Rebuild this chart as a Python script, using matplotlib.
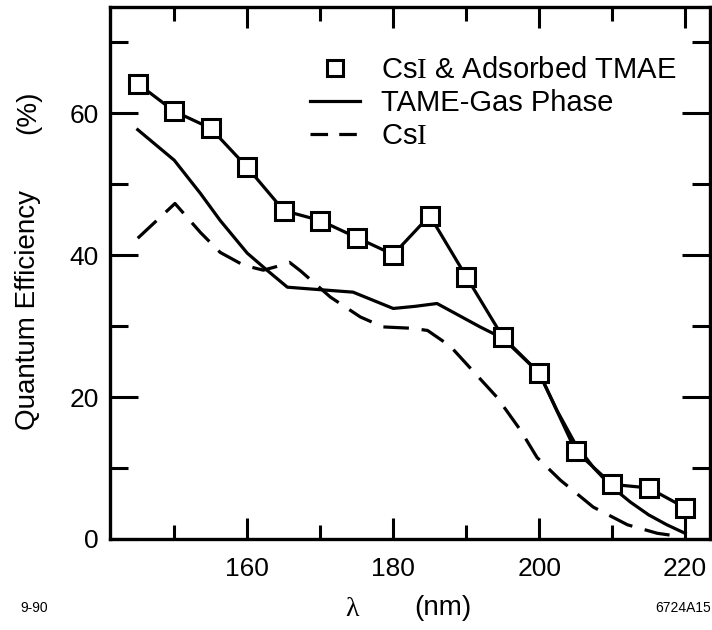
import numpy as np
import matplotlib
matplotlib.use("Agg")
import matplotlib.pyplot as plt
from matplotlib.lines import Line2D
from matplotlib.ticker import MultipleLocator

plt.rcParams['font.family'] = ['Liberation Sans', 'DejaVu Sans']
plt.rcParams['mathtext.fontset'] = 'custom'
plt.rcParams['mathtext.rm'] = 'Liberation Serif'

# CsI photocathode with adsorbed TMAE (measured points)
wl_ads = [145, 150, 155, 160, 165, 170, 175, 180, 185, 190, 195, 200, 205, 210, 215, 220]
qe_ads = [64.2, 60.3, 57.9, 52.4, 46.3, 44.9, 42.5, 40.1, 45.6, 37.0, 28.5, 23.4, 12.4, 7.7, 7.2, 4.4]

# TMAE gas phase curve
wl_gas = [145, 150, 153.6, 156.3, 160, 162.7, 165.5, 168, 174.5, 180, 183, 186,
          191.9, 195, 200, 202.5, 205, 207.5, 210, 212.5, 215, 217.5, 220]
qe_gas = [57.7, 53.4, 48.7, 44.9, 40.3, 37.9, 35.5, 35.3, 34.8, 32.5, 32.8, 33.2,
          29.9, 28.3, 23.4, 18.0, 13.3, 10.0, 7.3, 5.2, 3.4, 2.0, 0.8]

# bare CsI curve
wl_csi = [145, 150.1, 153.6, 156.3, 159.5, 162.2, 164, 165.8, 167.3, 171.4, 175.5, 178.6,
          182.7, 184.7, 187.8, 191, 194.2, 197.4, 199.7, 202.9, 207.4, 212.1, 216.2, 219]
qe_csi = [42.4, 47.3, 43.2, 40.4, 38.6, 37.9, 38.4, 39.0, 37.8, 34.1, 31.3, 29.9,
          29.7, 29.4, 27.2, 23.6, 20.0, 15.4, 11.5, 8.3, 4.5, 2.0, 0.8, 0.4]

W, H = 712, 630
fig = plt.figure(figsize=(W/100, H/100), dpi=100)
ax = fig.add_axes([110/W, 1-539/H, 600/W, 532/H])

lw = 2.3
ax.plot(wl_gas, qe_gas, color='black', lw=lw, solid_joinstyle='round')
ax.plot(wl_csi, qe_csi, color='black', lw=lw, linestyle=(0, (8, 4)))
ax.plot(wl_ads, qe_ads, color='black', lw=lw, marker='s', markersize=13,
        markerfacecolor='white', markeredgecolor='black', markeredgewidth=2.2, zorder=5)

ax.set_xlim(141.2, 223.4)
ax.set_ylim(0, 75)

ax.xaxis.set_major_locator(MultipleLocator(20))
ax.xaxis.set_minor_locator(MultipleLocator(10))
ax.yaxis.set_major_locator(MultipleLocator(20))
ax.yaxis.set_minor_locator(MultipleLocator(10))
ax.tick_params(which='both', direction='in', top=True, right=True, width=2.2)
ax.tick_params(axis='x', which='major', length=15, pad=13, labelsize=19)
ax.tick_params(axis='x', which='minor', length=10)
ax.tick_params(axis='y', which='major', length=20, pad=8, labelsize=19)
ax.tick_params(axis='y', which='minor', length=13)
ax.set_xticks([160, 180, 200, 220])
ax.set_xticklabels(['160', '180', '200', '220'])
for s in ax.spines.values():
    s.set_linewidth(2.4)

# legend
handles = [
    Line2D([], [], color='black', linestyle='none', marker='s', markersize=11,
           markerfacecolor='white', markeredgewidth=2.2),
    Line2D([], [], color='black', lw=lw),
    Line2D([], [], color='black', lw=lw, linestyle=(0, (5.5, 3.5))),
]
labels = [r'Cs$\mathrm{I}$ & Adsorbed TMAE', 'TAME-Gas Phase', r'Cs$\mathrm{I}$']
ax.legend(handles, labels, loc='upper left', bbox_to_anchor=(310/W, 1-56/H),
          bbox_transform=fig.transFigure, frameon=False, fontsize=21,
          handlelength=1.7, handletextpad=0.75, labelspacing=0.17,
          borderpad=0, borderaxespad=0)

# axis titles
fig.text(28/W, 1-310/H, 'Quantum Efficiency', rotation=90, fontsize=20,
         ha='center', va='center')
fig.text(28/W, 1-112/H, '(%)', rotation=90, fontsize=20, ha='center', va='center')
fig.text(352/W, 1-610/H, 'λ', fontsize=20, family='Liberation Serif',
         ha='center', va='center')
fig.text(443/W, 1-608/H, '(nm)', fontsize=20, ha='center', va='center')
fig.text(34/W, 1-608/H, '9-90', fontsize=10, ha='center', va='center')
fig.text(683/W, 1-608/H, '6724A15', fontsize=10, ha='center', va='center')

fig.savefig('out.png', dpi=100)
